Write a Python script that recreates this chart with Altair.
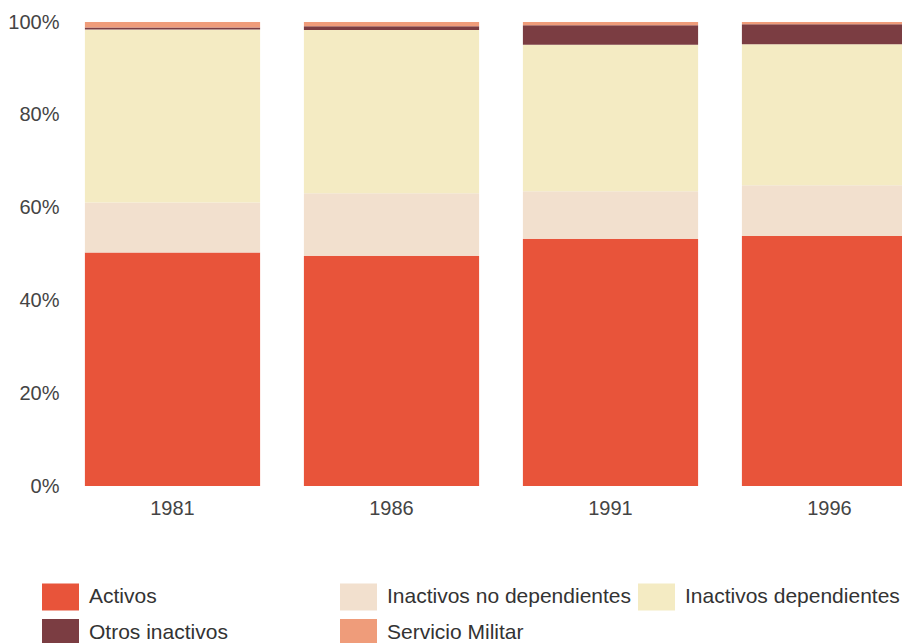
import altair as alt
import pandas as pd

years = ["1981", "1986", "1991", "1996"]
categories = ["Activos", "Inactivos no dependientes", "Inactivos dependientes",
              "Otros inactivos", "Servicio Militar"]
activos = [50.3, 49.6, 53.3, 53.9]
inact_no_dep = [10.8, 13.5, 10.2, 10.9]
inact_dep = [37.3, 35.2, 31.6, 30.4]
otros_inact = [0.4, 0.8, 4.2, 4.3]
servicio_mil = [1.2, 0.9, 0.7, 0.5]
colors = ["#E8543A", "#F2E0CE", "#F4EBC3", "#7B3D42", "#EF9C7A"]

series = [activos, inact_no_dep, inact_dep, otros_inact, servicio_mil]
rows = []
for ci, (cat, vals) in enumerate(zip(categories, series)):
    for y, v in zip(years, vals):
        rows.append({"year": y, "cat": cat, "idx": ci, "value": v / 100.0})
df = pd.DataFrame(rows)

font = "Liberation Sans"

chart = alt.Chart(df).mark_bar(clip=True).encode(
    x=alt.X("year:N", title=None,
            scale=alt.Scale(range=[0, 876], paddingInner=0.2, paddingOuter=0.1),
            axis=alt.Axis(labelAngle=0, domain=False, ticks=False, labelPadding=12,
                          labelFontSize=20, labelColor="#444", labelFont=font)),
    y=alt.Y("value:Q", title=None, stack="zero",
            scale=alt.Scale(domain=[0, 1], nice=False),
            axis=alt.Axis(values=[0, 0.2, 0.4, 0.6, 0.8, 1.0], format=".0%",
                          grid=False, domain=False, ticks=False, labelPadding=4,
                          labelFontSize=20, labelColor="#444", labelFont=font)),
    color=alt.Color("cat:N", title=None,
                    scale=alt.Scale(domain=categories, range=colors),
                    legend=alt.Legend(orient="none", legendX=-21, legendY=556,
                                      direction="horizontal",
                                      columns=3, gridAlign="all", columnPadding=6,
                                      rowPadding=3,
                                      symbolType="M-1,-0.73H1V0.73H-1Z",
                                      symbolSize=1369, symbolStrokeWidth=0,
                                      symbolOpacity=1, labelOffset=10,
                                      labelFontSize=21, labelColor="#333",
                                      labelFont=font, labelLimit=400)),
    order=alt.Order("idx:Q", sort="ascending"),
).properties(
    width=839, height=464,
    autosize=alt.AutoSizeParams(type="none"),
    padding={"left": 55, "top": 14, "right": 0, "bottom": 157},
    background="white",
).configure_view(stroke=None)

chart.save("out.html", embed_options={"renderer": "svg", "actions": False})
